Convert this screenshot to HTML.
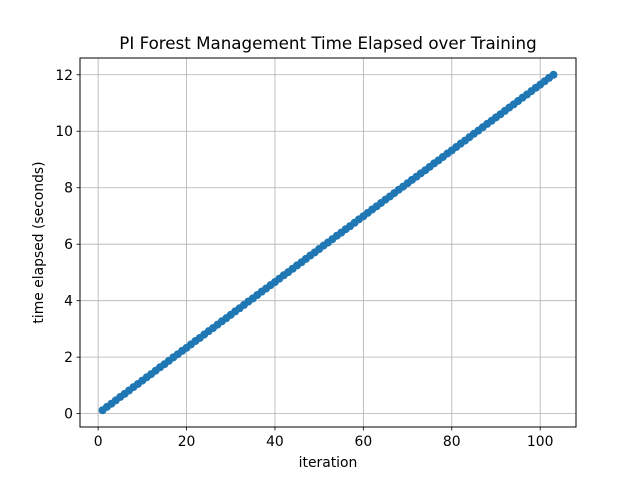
<!DOCTYPE html>
<html><head><meta charset="utf-8"><style>
html,body{margin:0;padding:0;background:#fff;}
svg{display:block;font-family:"DejaVu Sans","Liberation Sans",sans-serif;}
</style></head><body>
<svg id="chart" width="640" height="480" viewBox="0 0 640 480">
<rect x="0" y="0" width="640" height="480" fill="#fff"/>
<text x="328" y="49" font-size="16.7" text-anchor="middle">PI Forest Management Time Elapsed over Training</text>
<g id="grid"></g><g id="axes"></g><g id="series"></g>
<rect x="80" y="58" width="496" height="369" fill="none" stroke="#000" stroke-width="1"/>
<text x="328" y="467" font-size="13.9" text-anchor="middle">iteration</text>
<text transform="translate(43,242.5) rotate(-90)" font-size="13.9" text-anchor="middle">time elapsed (seconds)</text>
</svg>
<script>
const iterations = [];
for (let i = 1; i <= 103; i++) iterations.push(i);
const timeElapsed = [0.12,0.24,0.35,0.47,0.59,0.70,0.82,0.94,1.05,1.17,
1.29,1.40,1.52,1.64,1.75,1.87,1.99,2.10,2.22,2.33,
2.45,2.57,2.68,2.80,2.92,3.03,3.15,3.27,3.38,3.50,
3.62,3.73,3.85,3.97,4.08,4.20,4.32,4.43,4.55,4.66,
4.78,4.90,5.01,5.13,5.25,5.36,5.48,5.60,5.71,5.83,
5.95,6.06,6.18,6.30,6.41,6.53,6.64,6.76,6.88,6.99,
7.11,7.23,7.34,7.46,7.58,7.69,7.81,7.93,8.04,8.16,
8.28,8.39,8.51,8.62,8.74,8.86,8.97,9.09,9.21,9.32,
9.44,9.56,9.67,9.79,9.91,10.02,10.14,10.26,10.37,10.49,
10.60,10.72,10.84,10.95,11.07,11.19,11.30,11.42,11.54,11.65,
11.77,11.89,12.00];
const xTicks = [0,20,40,60,80,100];
const yTicks = [0,2,4,6,8,10,12];

const NS = "http://www.w3.org/2000/svg";
const L = 80, R = 576, T = 58, B = 427;
const xmin = Math.min(...iterations), xmax = Math.max(...iterations);
const ymin = Math.min(...timeElapsed), ymax = Math.max(...timeElapsed);
const xpad = (xmax - xmin) * 0.05, ypad = (ymax - ymin) * 0.05;
const x0 = xmin - xpad, x1 = xmax + xpad, y0 = ymin - ypad, y1 = ymax + ypad;
const sx = v => L + (v - x0) / (x1 - x0) * (R - L);
const sy = v => B - (v - y0) / (y1 - y0) * (B - T);
function mk(tag, attrs, parent) {
  const e = document.createElementNS(NS, tag);
  for (const k in attrs) e.setAttribute(k, attrs[k]);
  parent.appendChild(e);
  return e;
}
const grid = document.getElementById('grid'), axes = document.getElementById('axes'), series = document.getElementById('series');
xTicks.forEach(t => {
  const x = sx(t);
  const g = mk('line', {x1:x, x2:x, y1:T, y2:B, stroke:'#b0b0b0', 'stroke-width':0.8}, grid);
  
  
  mk('line', {x1:x, x2:x, y1:B, y2:B+3.5, stroke:'#000', 'stroke-width':0.8}, axes);
  const tx = mk('text', {x:x, y:B+19, 'font-size':13.9, 'text-anchor':'middle'}, axes);
  tx.textContent = t;
  
  
});
yTicks.forEach(t => {
  const y = sy(t);
  const g = mk('line', {x1:L, x2:R, y1:y, y2:y, stroke:'#b0b0b0', 'stroke-width':0.8}, grid);
  
  
  mk('line', {x1:L-3.5, x2:L, y1:y, y2:y, stroke:'#000', 'stroke-width':0.8}, axes);
  const tx = mk('text', {x:L-7, y:y+5, 'font-size':13.9, 'text-anchor':'end'}, axes);
  tx.textContent = t;
  
  
});
const pts = iterations.map((v, i) => sx(v) + ',' + sy(timeElapsed[i])).join(' ');
const line = mk('polyline', {points:pts, fill:'none', stroke:'#1f77b4', 'stroke-width':1.5}, series);


iterations.forEach((v, i) => {
  const c = mk('circle', {cx:sx(v), cy:sy(timeElapsed[i]), r:4, fill:'#1f77b4'}, series);
  
  
});
</script>
</body></html>
